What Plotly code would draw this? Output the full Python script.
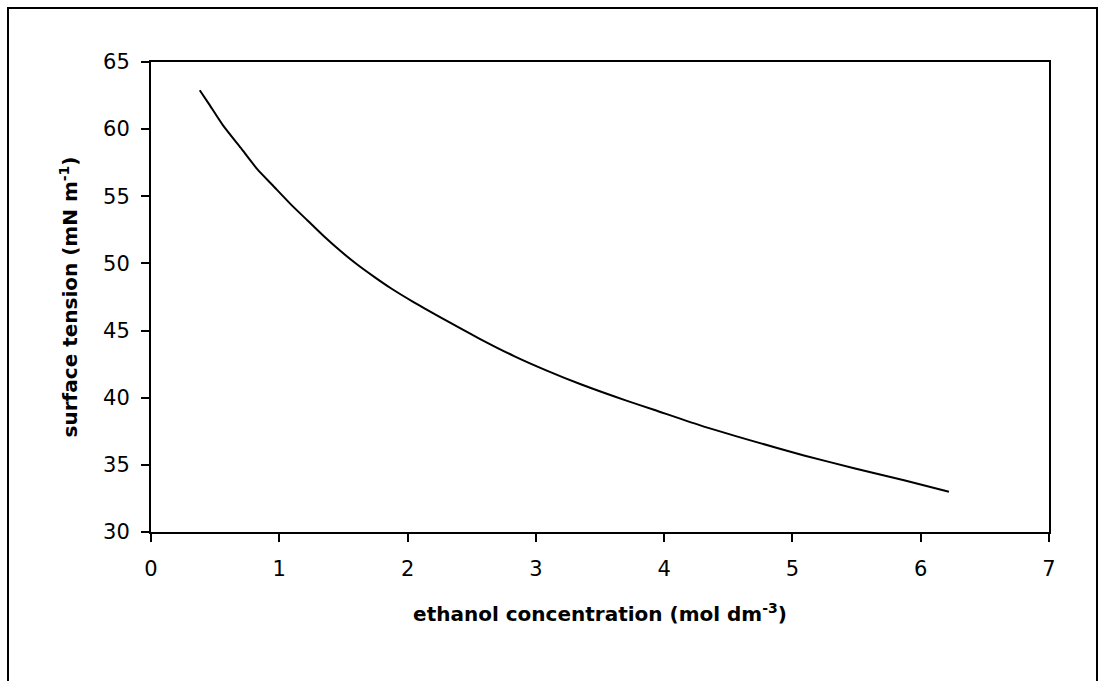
import plotly.graph_objects as go

concentration = [0.38, 0.45, 0.56, 0.70, 0.83, 0.95, 1.09, 1.22, 1.35, 1.48, 1.61, 1.74, 1.87,
                 2.05, 2.31, 2.57, 2.83, 3.09, 3.35, 3.70, 3.92, 4.31, 4.70, 5.09, 5.48, 5.87, 6.22]
surface_tension = [62.9, 61.9, 60.3, 58.6, 57.0, 55.8, 54.4, 53.2, 52.0, 50.9, 49.9, 49.0, 48.15,
                   47.1, 45.7, 44.35, 43.1, 42.0, 41.0, 39.8, 39.1, 37.85, 36.75, 35.7, 34.75, 33.85, 33.0]

x_ticks = [0, 1, 2, 3, 4, 5, 6, 7]
y_ticks = [30, 35, 40, 45, 50, 55, 60, 65]

W, H = 1104, 681
L, R, T, B = 151, 55, 62, 149
pw, ph = W - L - R, H - T - B

def px_to_paper_x(px):
    return (px - L) / pw

def py_to_paper_y(py):
    return 1 - (py - T) / ph

fig = go.Figure()
fig.add_trace(go.Scatter(x=concentration, y=surface_tension, mode="lines",
                         line=dict(color="black", width=2, shape="spline", smoothing=0.6),
                         showlegend=False))

fam = "DejaVu Sans, Liberation Sans, Arial, sans-serif"

fig.update_layout(
    width=W, height=H,
    margin=dict(l=L, r=R, t=T, b=B),
    paper_bgcolor="white", plot_bgcolor="white",
    font=dict(family=fam, color="black", size=20),
    xaxis=dict(range=[0, 7], tickvals=x_ticks, ticks="outside", ticklen=8, tickwidth=1.5,
               tickcolor="black", showline=True, linecolor="black", linewidth=2, mirror=True,
               showgrid=False, zeroline=False,
               tickfont=dict(family=fam, size=21, color="black"),
               ticklabelstandoff=9,
               title=dict(text="<b>ethanol concentration (mol dm<sup>-3</sup>)</b>",
                          font=dict(family=fam, size=20, color="black"), standoff=27)),
    yaxis=dict(range=[30, 65], tickvals=y_ticks, ticks="outside", ticklen=8, tickwidth=1.5,
               tickcolor="black", showline=True, linecolor="black", linewidth=2, mirror=True,
               showgrid=False, zeroline=False,
               tickfont=dict(family=fam, size=21, color="black"),
               ticklabelstandoff=7,
               title=dict(text="<b>surface tension (mN m<sup>-1</sup>)</b>",
                          font=dict(family=fam, size=20, color="black"), standoff=20)),
    shapes=[dict(type="rect", xref="paper", yref="paper",
                 x0=px_to_paper_x(8), x1=px_to_paper_x(1097),
                 y0=py_to_paper_y(720), y1=py_to_paper_y(8),
                 line=dict(color="black", width=2), fillcolor="rgba(0,0,0,0)", layer="below")],
)

fig.write_html("out.html")
